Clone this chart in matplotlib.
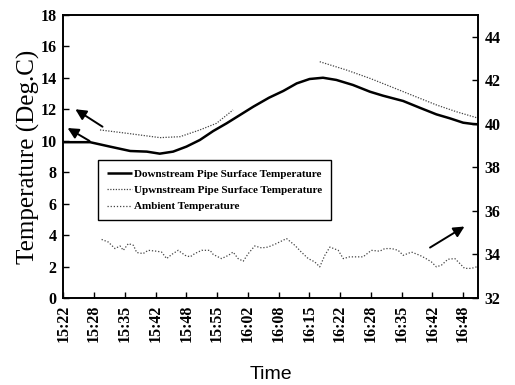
import numpy as np
import matplotlib
matplotlib.use('Agg')
import matplotlib.pyplot as plt

# minutes after 15:22
tick_labels = ['15:22', '15:28', '15:35', '15:42', '15:48', '15:55', '16:02',
               '16:08', '16:15', '16:22', '16:28', '16:35', '16:42', '16:48']

down_t = [0, 5.8, 10.1, 14.5, 18.1, 20.9, 23.8, 26.7, 29.6, 32.5, 35.4, 38.3,
          41.2, 44.6, 47.7, 50.6, 53.4, 56.3, 59.2, 62.8, 66.5, 69.3, 73.7,
          77.3, 80.9, 83.8, 86.7, 88.8, 89.9]
down_v = [9.91, 9.91, 9.63, 9.35, 9.31, 9.18, 9.31, 9.63, 10.05, 10.62, 11.11,
          11.64, 12.17, 12.74, 13.17, 13.65, 13.93, 14.01, 13.87, 13.55, 13.12,
          12.87, 12.53, 12.10, 11.68, 11.43, 11.15, 11.07, 11.05]

# upstream sensor has a gap between ~15:59 and ~16:18
up_t = [7.95, 13.7, 20.95, 25.3, 29.6, 33.2, 36.8, np.nan,
        55.6, 61.4, 66.5, 70.1, 75.1, 80.9, 85.2, 89.6]
up_v = [10.69, 10.48, 10.20, 10.26, 10.69, 11.11, 11.96, np.nan,
        15.03, 14.50, 13.97, 13.55, 12.96, 12.28, 11.85, 11.47]

amb_t = [8.3, 9.75, 11.2, 12.3, 13.0, 14.1, 15.2, 15.9, 17.3, 18.4, 20.2, 21.3,
         22.4, 23.5, 24.9, 26.4, 27.5, 28.5, 30.0, 31.8, 32.5, 34.3, 35.8, 36.8,
         37.9, 39.0, 40.1, 41.5, 43.0, 44.4, 46.2, 48.4, 50.2, 51.6, 53.1, 54.5,
         55.6, 56.7, 57.8, 59.6, 60.7, 62.1, 63.6, 65.0, 66.8, 68.6, 69.7, 71.2,
         72.6, 73.7, 75.5, 77.3, 78.4, 79.8, 80.9, 82.0, 83.4, 84.9, 86.0, 87.0,
         88.5, 89.6]
amb_v = [34.69, 34.57, 34.27, 34.39, 34.19, 34.50, 34.42, 34.09, 34.04, 34.19,
         34.15, 34.11, 33.81, 34.00, 34.19, 33.96, 33.89, 34.04, 34.19, 34.19,
         34.00, 33.81, 33.96, 34.11, 33.81, 33.69, 34.04, 34.39, 34.30, 34.34,
         34.50, 34.73, 34.42, 34.11, 33.81, 33.66, 33.43, 33.96, 34.34, 34.19,
         33.81, 33.89, 33.89, 33.89, 34.19, 34.15, 34.27, 34.27, 34.19, 33.96,
         34.11, 33.96, 33.84, 33.66, 33.43, 33.51, 33.78, 33.81, 33.58, 33.36,
         33.36, 33.43]

SERIF = 'Liberation Serif'

fig = plt.figure(figsize=(5.15, 3.85), dpi=100)
ax = fig.add_axes([0.123, 0.226, 0.805, 0.735])
ax2 = ax.twinx()

l1, = ax.plot(down_t, down_v, color='black', lw=1.8, solid_capstyle='butt',
              solid_joinstyle='round')
l2, = ax.plot(up_t, up_v, color='#444444', lw=0.9, linestyle=(0, (1, 1.2)))
l3, = ax2.plot(amb_t, amb_v, color='#444444', lw=0.9, linestyle=(0, (1, 1.5)))

ax.set_xlim(0, 89.9)
ax.set_ylim(0, 18)
ax2.set_ylim(32, 45)
ax.set_yticks(range(0, 19, 2))
ax2.set_yticks(range(32, 45, 2))
ax.set_xticks([k * 20 / 3 for k in range(len(tick_labels))])
ax.set_xticklabels(tick_labels, rotation=90)

for a in (ax, ax2):
    a.tick_params(direction='in', length=4, width=1, pad=5)
    for lab in a.get_xticklabels() + a.get_yticklabels():
        lab.set_fontfamily(SERIF)
        lab.set_fontweight('bold')
        lab.set_fontsize(11.5)
    for s in a.spines.values():
        s.set_linewidth(1.2)

ax.set_ylabel('Temperature (Deg.C)', family=SERIF, fontsize=18, labelpad=0)
ax.set_xlabel('Time', family='Liberation Sans', fontsize=14, labelpad=17)

# arrows pointing each curve to its axis
arrow = dict(arrowstyle='-|>', color='black', lw=1.4, mutation_scale=16)
ax.annotate('', xy=(2.1, 12.1), xytext=(9.0, 10.8), arrowprops=arrow)
ax.annotate('', xy=(0.4, 10.9), xytext=(6.2, 9.9), arrowprops=arrow)
ax2.annotate('', xy=(87.5, 35.35), xytext=(79.0, 34.25), arrowprops=arrow)

leg = ax.legend([l1, l2, l3],
                ['Downstream Pipe Surface Temperature',
                 'Upwnstream Pipe Surface Temperature',
                 'Ambient Temperature'],
                loc='upper left', bbox_to_anchor=(0.084, 0.488),
                prop={'family': SERIF, 'weight': 'bold', 'size': 8},
                frameon=True, fancybox=False, framealpha=1, edgecolor='black',
                handlelength=2.2, handletextpad=0.2, labelspacing=0.6,
                borderpad=0.8, borderaxespad=0)
leg.get_frame().set_linewidth(1.0)

fig.savefig('out.png', dpi=100)
